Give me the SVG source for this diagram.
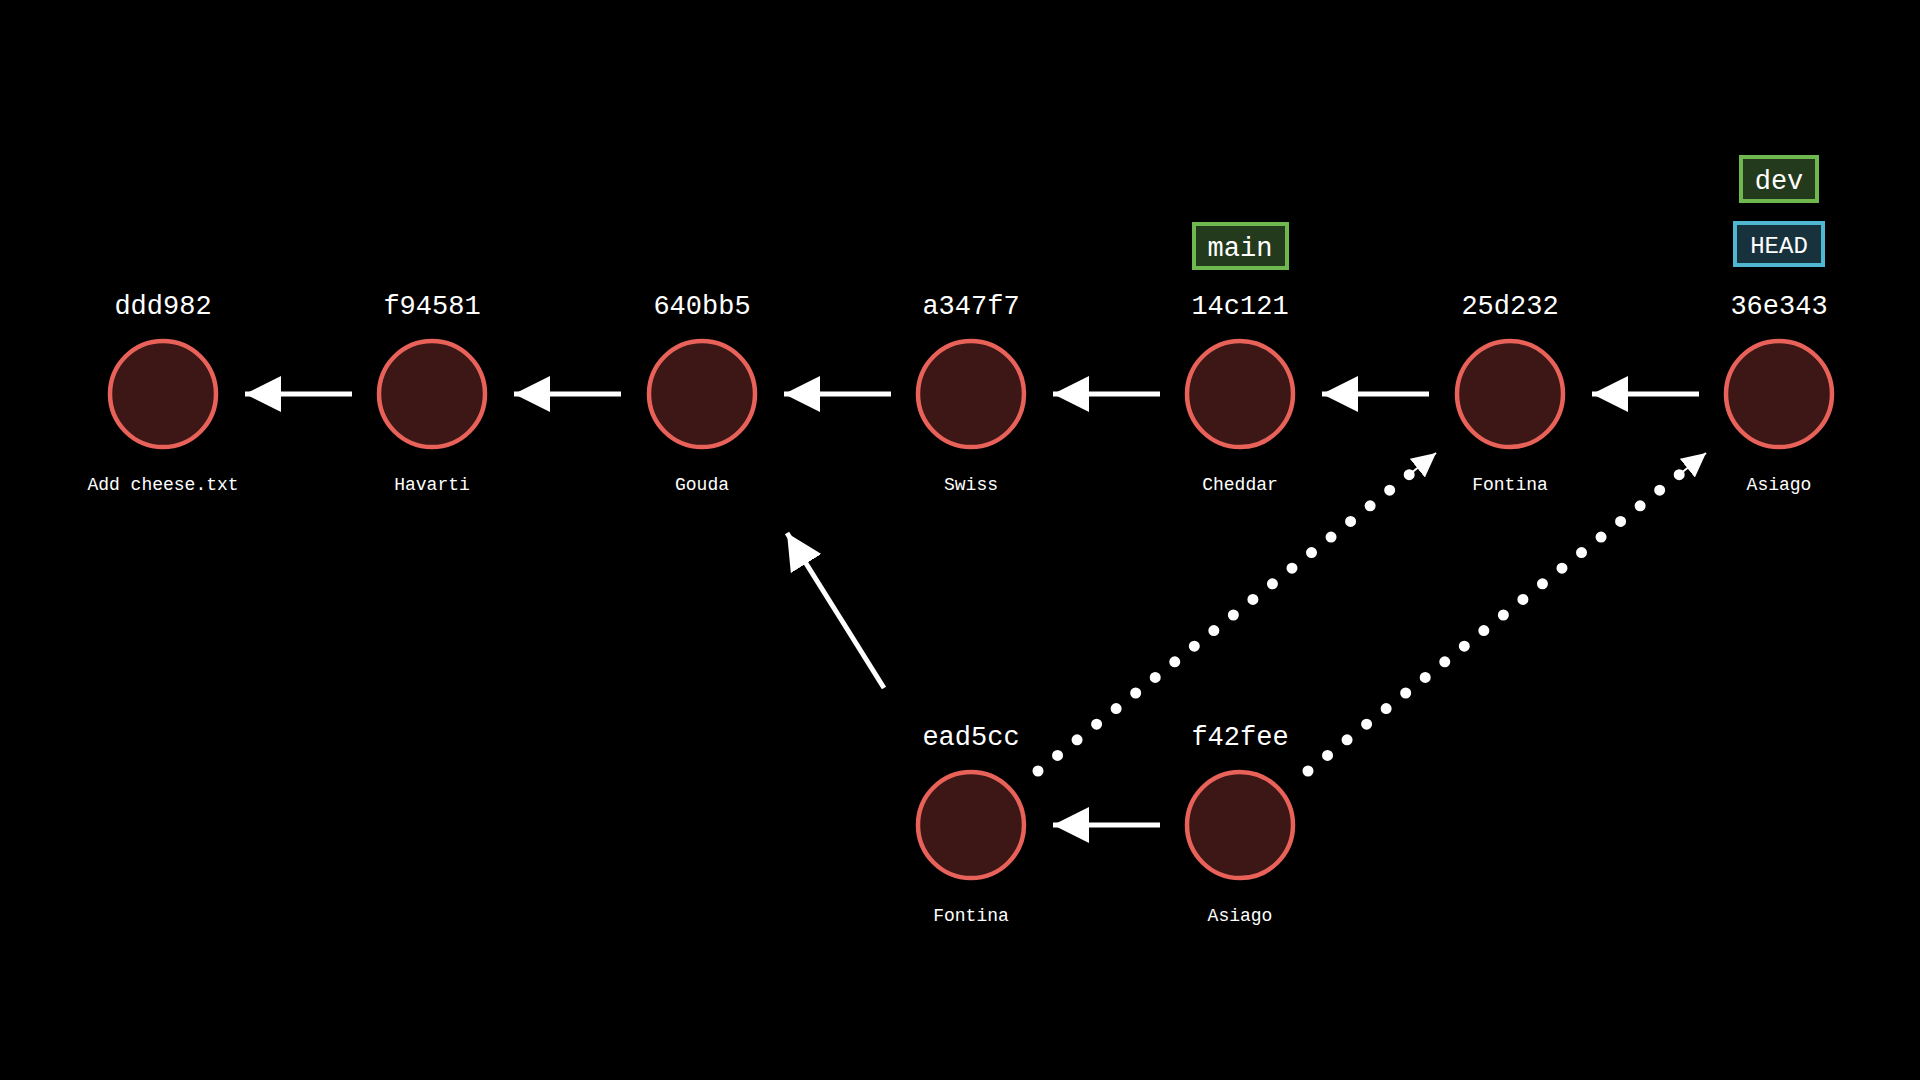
<svg xmlns="http://www.w3.org/2000/svg" width="1920" height="1080" viewBox="0 0 1920 1080">
<style>
.c{fill:#3d1716;stroke:#e8625a;stroke-width:4.5}
.h{font-family:"Liberation Mono",monospace;font-size:27px;fill:#fff;text-anchor:middle}
.m{font-family:"Liberation Mono",monospace;font-size:18px;fill:#fff;text-anchor:middle}
.a{stroke:#fff;stroke-width:5;fill:none;marker-end:url(#ah)}
.d{stroke:#fff;stroke-width:11;stroke-linecap:round;stroke-dasharray:0 25;fill:none}
</style>
<defs>
<marker id="ah" markerUnits="userSpaceOnUse" markerWidth="40" markerHeight="40" refX="36" refY="18" orient="auto"><path d="M0,0 L36,18 L0,36 Z" fill="#fff"/></marker>
<marker id="as" markerUnits="userSpaceOnUse" markerWidth="30" markerHeight="30" refX="24" refY="12" orient="auto"><path d="M0,0 L24,12 L0,24 Z" fill="#fff"/></marker>
</defs>
<rect width="1920" height="1080" fill="#000"/>
<g id="connectors">
<line class="a" x1="352" y1="394" x2="245" y2="394"/>
<line class="a" x1="621" y1="394" x2="514" y2="394"/>
<line class="a" x1="891" y1="394" x2="784" y2="394"/>
<line class="a" x1="1160" y1="394" x2="1053" y2="394"/>
<line class="a" x1="1429" y1="394" x2="1322" y2="394"/>
<line class="a" x1="1699" y1="394" x2="1592" y2="394"/>
<line class="a" x1="1160" y1="825" x2="1053" y2="825"/>
<line class="a" x1="884" y1="688" x2="787" y2="533"/>
<line class="d" x1="1038" y1="771" x2="1420" y2="466"/>
<line x1="1410" y1="474" x2="1436" y2="453" stroke="#fff" stroke-width="2" marker-end="url(#as)"/>
<line class="d" x1="1308" y1="771" x2="1690" y2="466"/>
<line x1="1680" y1="474" x2="1706" y2="453" stroke="#fff" stroke-width="2" marker-end="url(#as)"/>
</g>
<g id="ddd982"><circle class="c" cx="163" cy="394" r="53"/><text class="h" x="163" y="314">ddd982</text><text class="m" x="163" y="490">Add cheese.txt</text></g>
<g id="f94581"><circle class="c" cx="432" cy="394" r="53"/><text class="h" x="432" y="314">f94581</text><text class="m" x="432" y="490">Havarti</text></g>
<g id="640bb5"><circle class="c" cx="702" cy="394" r="53"/><text class="h" x="702" y="314">640bb5</text><text class="m" x="702" y="490">Gouda</text></g>
<g id="a347f7"><circle class="c" cx="971" cy="394" r="53"/><text class="h" x="971" y="314">a347f7</text><text class="m" x="971" y="490">Swiss</text></g>
<g id="14c121"><circle class="c" cx="1240" cy="394" r="53"/><text class="h" x="1240" y="314">14c121</text><text class="m" x="1240" y="490">Cheddar</text></g>
<g id="25d232"><circle class="c" cx="1510" cy="394" r="53"/><text class="h" x="1510" y="314">25d232</text><text class="m" x="1510" y="490">Fontina</text></g>
<g id="36e343"><circle class="c" cx="1779" cy="394" r="53"/><text class="h" x="1779" y="314">36e343</text><text class="m" x="1779" y="490">Asiago</text></g>
<g id="ead5cc"><circle class="c" cx="971" cy="825" r="53"/><text class="h" x="971" y="745">ead5cc</text><text class="m" x="971" y="921">Fontina</text></g>
<g id="f42fee"><circle class="c" cx="1240" cy="825" r="53"/><text class="h" x="1240" y="745">f42fee</text><text class="m" x="1240" y="921">Asiago</text></g>
<g id="main"><rect x="1194" y="224" width="93" height="44" fill="#243a1c" stroke="#6fb84f" stroke-width="4"/><text class="h" x="1240" y="256">main</text></g>
<g id="dev"><rect x="1741" y="157" width="76" height="44" fill="#243a1c" stroke="#6fb84f" stroke-width="4"/><text class="h" x="1779" y="189">dev</text></g>
<g id="HEAD"><rect x="1735" y="223" width="88" height="42" fill="#17323d" stroke="#4fb8d0" stroke-width="4"/><text class="h" x="1779" y="253" style="font-size:24px">HEAD</text></g>
</svg>
